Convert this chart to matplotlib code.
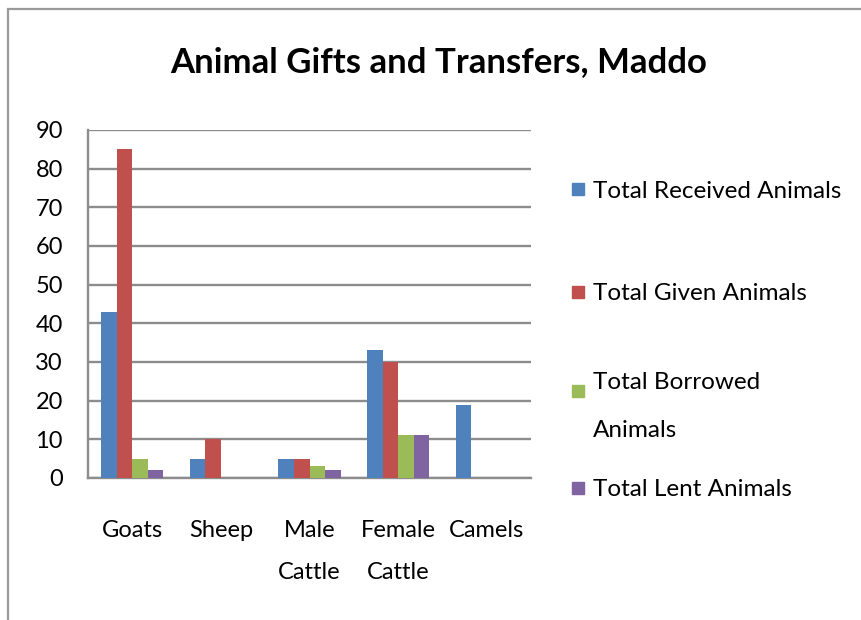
import numpy as np
import matplotlib
matplotlib.use('Agg')
import matplotlib.pyplot as plt
from matplotlib.patches import Rectangle

# Data
categories = ['Goats', 'Sheep', 'Male\nCattle', 'Female\nCattle', 'Camels']
series_names = ['Total Received Animals', 'Total Given Animals',
                'Total Borrowed\nAnimals', 'Total Lent Animals']
received = [43, 5, 5, 33, 19]
given = [85, 10, 5, 30, 0]
borrowed = [5, 0, 3, 11, 0]
lent = [2, 0, 2, 11, 0]
y_ticks = [0, 10, 20, 30, 40, 50, 60, 70, 80, 90]

colors = ['#4F81BD', '#C0504D', '#9BBB59', '#8064A2']
grid_col = '#8C8C8C'

plt.rcParams['font.family'] = ['Lato', 'DejaVu Sans']

fig = plt.figure(figsize=(8.61, 6.2), dpi=100)
ax = fig.add_axes([88 / 861, 142 / 620, 443 / 861, 348 / 620])

x = np.arange(len(categories))
w = 0.175
for i, vals in enumerate([received, given, borrowed, lent]):
    ax.bar(x + (i - 1.5) * w, vals, w, color=colors[i], zorder=3)

ax.set_xlim(-0.5, len(categories) - 0.5)
ax.set_ylim(0, 90)
ax.set_yticks(y_ticks)
ax.set_xticks(x)
ax.set_xticklabels(categories, linespacing=2.25)
ax.tick_params(axis='y', length=0, pad=18, labelsize=17)
ax.tick_params(axis='x', length=0, pad=30, labelsize=17)

ax.yaxis.grid(True, color=grid_col, linewidth=1.7, zorder=0)
for side in ['top', 'right']:
    ax.spines[side].set_visible(False)
for side in ['left', 'bottom']:
    ax.spines[side].set_color(grid_col)
    ax.spines[side].set_linewidth(1.7)

# Title
fig.text(439 / 861, 1 - 62 / 620, 'Animal Gifts and Transfers, Maddo',
         ha='center', va='center', fontsize=25, fontweight='bold')

# Legend
leg_y = [189, 292, 391, 488]
for name, col, yy in zip(series_names, colors, leg_y):
    fy = 1 - yy / 620
    fig.add_artist(Rectangle((572 / 861, fy - 6 / 620), 12 / 861, 12 / 620,
                             transform=fig.transFigure, color=col))
    fig.text(593 / 861, fy, name, ha='left', va='center_baseline',
             fontsize=17.5, linespacing=2.6)

# Outer border (top and left visible)
fig.add_artist(Rectangle((8 / 861, -0.1), 1.2, 1.1 - 9 / 620,
                         transform=fig.transFigure, fill=False,
                         edgecolor='#9A9A9A', linewidth=1.6))

fig.savefig('out.png', dpi=100)
